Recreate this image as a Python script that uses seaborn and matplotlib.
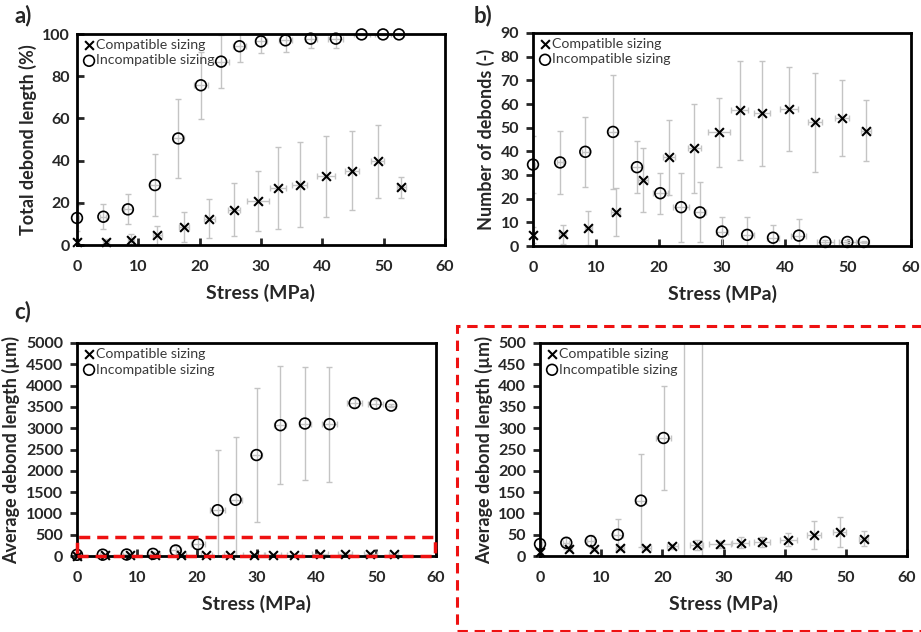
import numpy as np
import pandas as pd
import matplotlib
matplotlib.use("Agg")
import matplotlib.pyplot as plt
from matplotlib.patches import Rectangle
import seaborn as sns

# ---------------- data ----------------
stress_comp = [0, 4.7, 8.8, 13.1, 17.4, 21.6, 25.6, 29.5, 32.8, 36.3, 40.6, 44.8, 49.0, 52.9]
stress_comp_err = [0.3, 0.5, 0.5, 0.7, 0.8, 0.9, 1.0, 1.8, 1.35, 1.25, 1.4, 1.1, 1.1, 0.8]
stress_inc = [0, 4.3, 8.3, 12.7, 16.5, 20.2, 23.5, 26.5, 30.0, 34.0, 38.1, 42.2, 46.4, 49.9, 52.5]
stress_inc_err = [0.3, 0.5, 0.6, 0.8, 0.9, 1.2, 1.3, 1.0, 1.0, 1.0, 1.0, 1.2, 1.3, 1.3, 0.8]

# a) total debond length (%)
total_comp = [1.3, 1.4, 2.5, 4.6, 8.4, 12.5, 16.7, 20.7, 27.0, 28.5, 32.5, 35.3, 39.7, 27.4]
total_comp_err = [1.0, 1.5, 2.5, 4.5, 7.1, 9.2, 12.5, 14.2, 19.5, 20.2, 19.2, 18.5, 17.4, 5.0]
total_inc = [12.8, 13.4, 16.9, 28.4, 50.5, 75.7, 86.9, 94.2, 96.5, 97.0, 97.8, 97.8, 99.8, 99.8, 99.8]
total_inc_err = [6.0, 6.0, 7.1, 14.6, 18.6, 15.9, 12.6, 7.3, 5.6, 5.4, 4.6, 4.3, 0.5, 0.5, 0.3]

# b) number of debonds
num_comp = [4.7, 4.9, 7.6, 14.4, 27.9, 37.4, 41.3, 48.0, 57.4, 56.0, 57.8, 52.2, 54.0, 48.7]
num_comp_err = [3.5, 4.0, 7.1, 10.3, 13.6, 16.0, 18.9, 14.5, 20.9, 22.0, 17.8, 20.8, 16.0, 12.8]
num_inc = [34.4, 35.3, 39.8, 48.2, 33.3, 22.3, 16.4, 14.2, 6.1, 4.7, 3.5, 4.4, 1.7, 1.7, 1.7]
num_inc_err = [11.9, 13.5, 14.7, 24.0, 11.1, 8.6, 14.6, 12.7, 6.3, 7.6, 5.2, 6.9, 1.0, 0.8, 0.5]

# c/d) average debond length (um)
len_comp = [10, 16.5, 16.5, 18.8, 18.8, 22.8, 26.7, 27.5, 31.4, 33.0, 38.5, 50.2, 55.7, 40.8]
len_comp_err = [3, 4, 5, 5, 5, 6, 11.8, 8, 13, 12, 16, 33, 35, 17]
len_inc = [28, 31, 35, 50, 130, 277, 1075, 1320, 2370, 3070, 3110, 3095, 3590, 3575, 3530]
len_inc_err = [5, 14, 14, 37, 109, 121, 1413, 1474, 1570, 1381, 1325, 1350, 90, 90, 40]

labels = ["Compatible sizing", "Incompatible sizing"]

# ---------------- style ----------------
sns.set_style("white")
plt.rcParams['font.family'] = ['Lato', 'DejaVu Sans']

fig = plt.figure(figsize=(9.21, 6.32), dpi=100)

W, H = 921, 632
def ax_at(l, r, t, b):
    return fig.add_axes([l / W, 1 - b / H, (r - l) / W, (b - t) / H])

ax_a = ax_at(77, 445, 34, 245)
ax_b = ax_at(533, 911, 33, 246)
ax_c = ax_at(77, 436, 343, 556)
ax_d = ax_at(540, 907, 343, 556)

ecol = '#c4c4c4'

def expand_clip(ax, coll):
    clip = Rectangle((-0.05, -0.07), 1.10, 1.14, transform=ax.transAxes)
    coll.set_clip_path(clip)

def panel(ax, yc, yce, yi, yie, ylim, ystep, ylabel, ydir):
    dfc = pd.DataFrame({"Stress": stress_comp, "val": yc})
    dfi = pd.DataFrame({"Stress": stress_inc, "val": yi})
    ax.errorbar(stress_comp, yc, yerr=yce, xerr=stress_comp_err, fmt='none',
                ecolor=ecol, elinewidth=1.0, capsize=2.5, capthick=1.0, zorder=1)
    ax.errorbar(stress_inc, yi, yerr=yie, xerr=stress_inc_err, fmt='none',
                ecolor=ecol, elinewidth=1.0, capsize=2.5, capthick=1.0, zorder=1)
    sns.scatterplot(data=dfc, x="Stress", y="val", ax=ax, marker='x', s=40,
                    color='black', linewidth=1.5, zorder=3, label=labels[0])
    expand_clip(ax, ax.collections[-1])
    sns.scatterplot(data=dfi, x="Stress", y="val", ax=ax, marker='o', s=60,
                    color='black', facecolors='none', edgecolor='black',
                    linewidth=1.2, zorder=3, label=labels[1])
    expand_clip(ax, ax.collections[-1])
    ax.set_xlim(0, 60)
    ax.set_ylim(0, ylim)
    ax.set_xticks(np.arange(0, 61, 10))
    ax.set_yticks(np.arange(0, ylim + 0.1, ystep))
    ax.set_xlabel("Stress (MPa)", fontsize=14, fontweight='bold', labelpad=7)
    ax.set_ylabel(ylabel, fontsize=13, fontweight='bold', labelpad=4)
    ax.tick_params(axis='x', direction='in', length=5, width=2, labelsize=11.5,
                   pad=11, bottom=True)
    if ydir == 'in':
        ax.tick_params(axis='y', direction='in', length=5, width=2, labelsize=11.5,
                       pad=5, left=True)
    else:
        ax.tick_params(axis='y', direction='out', length=5, width=2, labelsize=11.5,
                       pad=5, left=True)
    for lab in ax.get_xticklabels() + ax.get_yticklabels():
        lab.set_fontweight('bold')
    for sp in ax.spines.values():
        sp.set_linewidth(2)
        sp.set_color('black')
        sp.set_visible(True)
    leg = ax.legend(loc='upper left', frameon=False, fontsize=10.2, handletextpad=0.0,
                    borderaxespad=0.1, labelspacing=0.25, handlelength=1.0,
                    borderpad=0.25)
    for t in leg.get_texts():
        t.set_color('#3a3a3a')

panel(ax_a, total_comp, total_comp_err, total_inc, total_inc_err, 100, 20,
      "Total debond length (%)", 'in')
panel(ax_b, num_comp, num_comp_err, num_inc, num_inc_err, 90, 10,
      "Number of debonds (-)", 'out')
panel(ax_c, len_comp, len_comp_err, len_inc, len_inc_err, 5000, 500,
      "Average debond length (µm)", 'out')
panel(ax_d, len_comp, len_comp_err, len_inc, len_inc_err, 500, 50,
      "Average debond length (µm)", 'out')

# zoom region in c)
ax_c.add_patch(Rectangle((0, -10), 59.8, 460, fill=False, edgecolor='#ee1111',
                         linewidth=2.5, linestyle=(0, (3.2, 2.0)), clip_on=False, zorder=5))

# dashed frame around d)
fig.add_artist(Rectangle((457 / W, 1 - 631 / H), 1.0, (631 - 326) / H,
                         transform=fig.transFigure, fill=False, edgecolor='#ee1111',
                         linewidth=2.2, linestyle=(0, (3.4, 2.2)), clip_on=False))

# panel letters
fig.text(14 / W, 1 - 16 / H, "a)", fontsize=16, fontweight='bold', va='center')
fig.text(474 / W, 1 - 16 / H, "b)", fontsize=16, fontweight='bold', va='center')
fig.text(14 / W, 1 - 312 / H, "c)", fontsize=16, fontweight='bold', va='center')

fig.savefig("out.png", dpi=100)
